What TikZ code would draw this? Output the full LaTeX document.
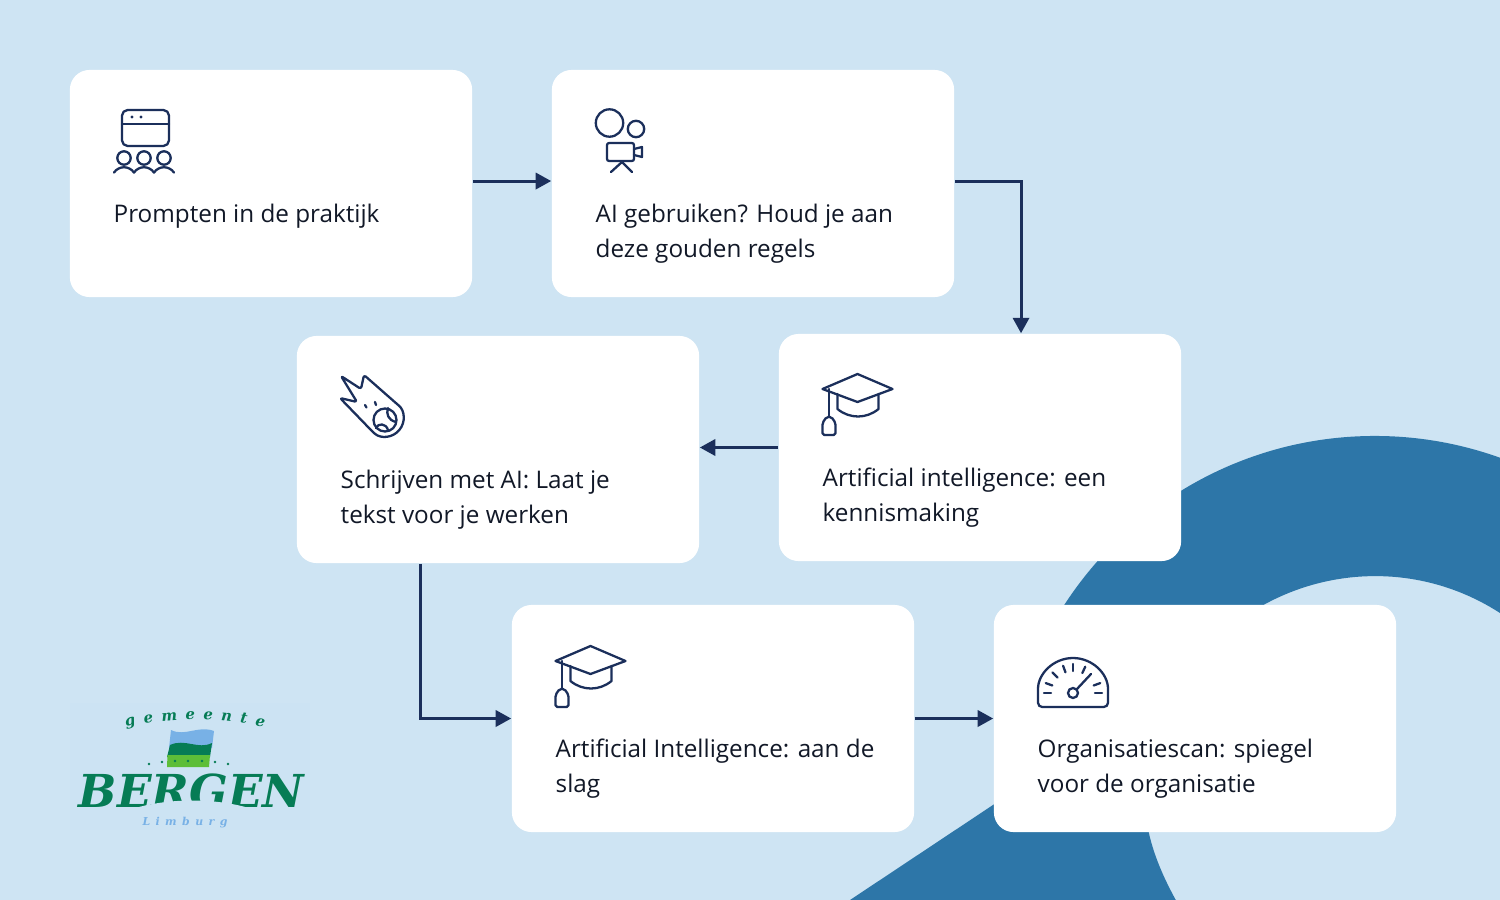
\documentclass[tikz,border=0pt]{standalone}
\usepackage{fontspec}
\setmainfont{Open Sans}
\newfontfamily\logofont{DejaVu Serif}
\usetikzlibrary{arrows.meta,decorations.text}
\definecolor{bgblue}{HTML}{CEE4F3}
\definecolor{ringblue}{HTML}{2D76A8}
\definecolor{navy}{HTML}{1B2F5B}
\definecolor{inktext}{HTML}{111827}
\definecolor{logogreen}{HTML}{067C55}
\definecolor{logolime}{HTML}{5DBE38}
\definecolor{logosky}{HTML}{78B1E6}
\tikzset{
  card/.style={fill=white,rounded corners=5.6pt,minimum width=4.02cm,minimum height=2.27cm,inner sep=0pt},
  cardtext/.style={anchor=north west,align=left,inner sep=0pt,text=inktext,font=\fontsize{6.9pt}{9.96pt}\selectfont},
  flow/.style={navy,line width=.85pt,-{Triangle[length=4.4pt,width=4.6pt]}},
  icon/.style={navy,line width=.65pt,line cap=round,line join=round},
}
\def\gradcap#1#2{\begin{scope}[shift={(#1,#2)},icon]
    \draw (35,0)--(70,-15)--(35,-28)--(0,-15)--cycle;
    \draw (15,-20)--(15,-35) .. controls (27,-45) and (44,-45) .. (56,-35)--(56,-20);
    \draw (6.5,-15)--(6.5,-43);
    \draw[rounded corners=.5pt] (0,-61)--(0,-49)--(4,-43)--(9,-43)--(13,-49)--(13,-61)--cycle;
  \end{scope}}

\begin{document}
\begin{tikzpicture}[x=0.01cm,y=0.01cm]
  \fill[bgblue] (0,0) rectangle (1500,-900);
  \begin{scope}
    \clip (0,0) rectangle (1500,-900);
    \fill[ringblue] (850,-900)--(1005,-797)--(1005,-799.5) arc (179:-20:370)--(1600,-900)--(1500,-900)
      --(1500,-613) arc (57.1:180:230) .. controls (1147,-840) and (1160,-872) .. (1178,-904)--cycle;
  \end{scope}
  % cards
  \node[card] (prompten) at (271,-183.5){};
  \node[card] (regels) at (753,-183.5){};
  \node[card] (kennis) at (980,-447.5){};
  \node[card] (schrijven) at (498,-449.5){};
  \node[card] (slag) at (713,-718.5){};
  \node[card] (scan) at (1195,-718.5){};
  \node[cardtext] (promptentxt) at (113,-203){Prompten in de praktijk};
  \node[cardtext] (regelstxt) at (595,-203){AI gebruiken? Houd je aan\\deze gouden regels};
  \node[cardtext] (kennistxt) at (822,-467){Artificial intelligence: een\\kennismaking};
  \node[cardtext] (schrijventxt) at (340,-469){Schrijven met AI: Laat je\\tekst voor je werken};
  \node[cardtext] (slagtxt) at (555,-738){Artificial Intelligence: aan de\\slag};
  \node[cardtext] (scantxt) at (1037,-738){Organisatiescan: spiegel\\voor de organisatie};
  % connectors
  \draw[flow] ([yshift=.7pt]prompten.east)--([yshift=.7pt]regels.west);
  \draw[flow] ([yshift=.7pt]regels.east)-|([xshift=.41cm]kennis.north);
  \draw[flow] (kennis.west)--(kennis.west-|schrijven.east);
  \draw[flow] ([xshift=-.775cm]schrijven.south)|-(slag.west);
  \draw[flow] (slag.east)--(scan.west);
  % icon: window and people
  \begin{scope}[icon]
    \draw[rounded corners=1.6pt] (122,-110) rectangle (169,-146);
    \draw (122,-124)--(169,-124);
    \fill (132,-117) circle(1.6) (141,-117) circle(1.6);
    \foreach \cx in {124,144,164}
      \draw (\cx,-158) circle(6.7);
    \foreach \hx in {114,134,154}
      \draw (\hx,-172.5) .. controls (\hx+5,-165.5) and (\hx+15,-165.5) .. (\hx+20,-172.5);
  \end{scope}
  % icon: circles and camera
  \begin{scope}[icon]
    \draw (609.5,-123) circle(13.7);
    \draw (636,-129) circle(8.2);
    \draw[rounded corners=.6pt] (607,-143) rectangle (634,-161);
    \draw (634,-149)--(642,-147)--(642,-157)--(634,-155);
    \draw (622,-162)--(611,-172) (622,-162)--(632,-172);
  \end{scope}
  % icon: comet
  \begin{scope}[icon]
    \draw[rounded corners=.7pt] (341,-376)--(361,-389)--(364,-375)--(397,-404)
      arc (50:-130:18.5)--(340,-398)--(357,-402)--cycle;
    \draw (385,-420) circle(11.5);
    \draw (388,-408) .. controls (386,-414) and (388,-420) .. (396,-422);
    \draw (376,-428) .. controls (378,-423) and (386,-423) .. (388,-430);
    \draw (365,-405)--(366.5,-407.5) (375,-402)--(376,-405);
  \end{scope}
  \gradcap{822.5}{-374}
  \gradcap{555.5}{-646}
  % icon: dial
  \begin{scope}[icon]
    \draw[rounded corners=1.2pt] (1038,-707)--(1038,-693) arc (180:0:35)--(1108,-707)--cycle;
    \foreach \ang in {0,20,65,90,110,135,160,180}
      \draw (1073,-693)++(\ang:22)--++(\ang:7);
    \draw (1073,-693) circle(5);
    \draw (1076.5,-689.5)--(1091,-674);
  \end{scope}
  % logo
  \fill[bgblue!98!logosky] (70,-703) rectangle (310,-830);
  \path[decorate,decoration={text along path,text={|\logofont\bfseries\itshape\fontsize{4.2pt}{5pt}\selectfont\color{logogreen}|gemeente},text align={fit to path}}]
    (126,-727) .. controls (170,-717) and (220,-717) .. (264,-727);
  \fill[logosky] (171,-730) .. controls (185,-737) and (198,-725) .. (214,-731)--(212,-748)--(169,-748)--cycle;
  \fill[logogreen] (170,-745) .. controls (185,-738) and (198,-750) .. (212,-743)--(210,-757)--(167,-757)--cycle;
  \fill[logolime] (167.5,-755)--(210,-755)--(209,-767)--(167,-767)--cycle;
  \foreach \dx/\dy in {149/764,162/762,175/761,188/761,202/761,215/762,228/764}
    \fill[logogreen] (\dx,-\dy) circle(1.4);
  \node[anchor=base,inner sep=0pt,text=logogreen,font=\logofont\bfseries\itshape\fontsize{12.9pt}{16pt}\selectfont] (bergen) at (191.5,-807.5){BERGEN};
  \fill[bgblue!98!logosky] (126,-811) .. controls (165,-797) and (220,-797) .. (258,-811)--cycle;
  \node[anchor=base,inner sep=0pt,text=logosky,font=\logofont\bfseries\itshape\fontsize{3.1pt}{4pt}\selectfont] (limburg) at (185,-825){L\,\,\,i\,\,\,m\,\,\,b\,\,\,u\,\,\,r\,\,\,g};
\end{tikzpicture}
\end{document}
